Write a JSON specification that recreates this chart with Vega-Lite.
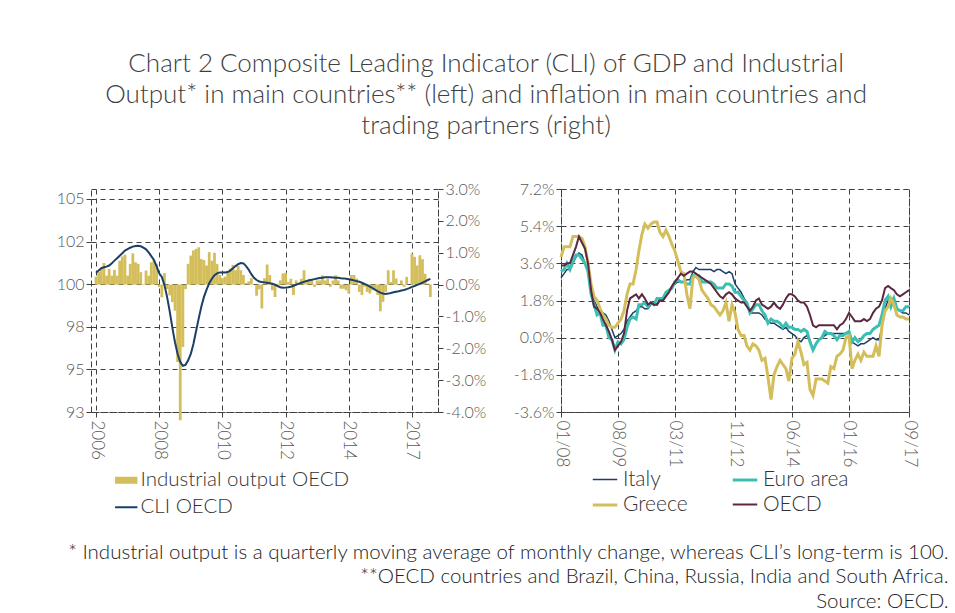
{
"$schema": "https://vega.github.io/schema/vega-lite/v6.json",
"background": "white",
"padding": {"left": 55, "top": 50, "right": 5, "bottom": 5},
"title": {"text": ["Chart 2 Composite Leading Indicator (CLI) of GDP and Industrial", "Output* in main countries** (left) and inflation in main countries and", "trading partners (right)"], "anchor": "middle", "fontSize": 26, "fontWeight": 300, "lineHeight": 31, "color": "#404040", "offset": 42, "dx": -16},
"vconcat": [
{"hconcat": [
{
"width": 347, "height": 223,
"data": {"name": "io"},
"layer": [
{"mark": {"type": "bar", "size": 2.8, "clip": false},
"encoding": {
"x": {"field": "i", "type": "quantitative", "scale": {"domain": [0, 128], "nice": false, "zero": false}, "axis": {"values": [0, 24, 48, 72, 96, 120], "labelExpr": "datum.value == 120 ? '2017' : '' + (2006 + datum.value / 12)", "labelAngle": 90, "labelAlign": "left", "labelBaseline": "middle", "labelFontSize": 17, "grid": true, "title": null, "labelPadding": 3}},
"y": {"field": "io", "type": "quantitative", "scale": {"domain": [-4, 3], "nice": false}, "axis": {"orient": "right", "values": [-4, -3, -2, -1, 0, 1, 2, 3], "labelExpr": "replace(format(datum.value, '.1f'), '\u2212', '-') + '%'", "grid": false, "title": null}},
"color": {"datum": "Industrial output OECD", "type": "nominal", "scale": {"domain": ["Industrial output OECD", "CLI OECD"], "range": ["#D4BE5B", "#1B3F66"]},
"legend": {"title": null, "orient": "bottom", "direction": "vertical", "symbolType": "stroke", "symbolSize": 500, "rowPadding": 2, "padding": 25, "offset": -15, "labelLimit": 400, "labelFontSize": 20.5,
"encode": {"symbols": {"update": {"strokeWidth": {"signal": "datum.label == 'CLI OECD' ? 2 : 7"}, "stroke": {"signal": "datum.label == 'CLI OECD' ? '#1B3F66' : '#D4BE5B'"}}}}}}
}},
{"mark": {"type": "line", "strokeWidth": 2},
"encoding": {
"x": {"field": "i", "type": "quantitative"},
"y": {"field": "cli", "type": "quantitative", "scale": {"domain": [93, 105.3], "nice": false, "zero": false}, "axis": {"orient": "left", "values": [93, 95.35, 97.7, 100.05, 102.4, 104.75], "format": ".0f", "grid": true, "title": null}},
"color": {"datum": "CLI OECD", "type": "nominal"}
}}
],
"resolve": {"scale": {"y": "independent"}}
},
{
"width": 348, "height": 223,
"data": {"name": "cpi"},
"transform": [{"fold": ["Italy", "Euro area", "Greece", "OECD"], "as": ["series", "value"]}],
"mark": {"type": "line"},
"encoding": {
"x": {"field": "date", "type": "temporal", "scale": {"type": "utc", "domain": [{"year": 2008, "month": 1, "date": 1, "utc": true}, {"year": 2017, "month": 9, "date": 1, "utc": true}]},
"axis": {"values": [{"year": 2008, "month": 1, "date": 1, "utc": true}, {"year": 2009, "month": 8, "date": 1, "utc": true}, {"year": 2011, "month": 3, "date": 1, "utc": true}, {"year": 2012, "month": 11, "date": 1, "utc": true}, {"year": 2014, "month": 6, "date": 1, "utc": true}, {"year": 2016, "month": 1, "date": 1, "utc": true}, {"year": 2017, "month": 9, "date": 1, "utc": true}], "format": "%m/%y", "labelAngle": 90, "labelAlign": "left", "labelBaseline": "middle", "labelFontSize": 17, "grid": true, "title": null, "labelPadding": 3}},
"y": {"field": "value", "type": "quantitative", "scale": {"domain": [-3.6, 7.2], "nice": false, "zero": false}, "axis": {"values": [-3.6, -1.8, 0, 1.8, 3.6, 5.4, 7.2], "labelExpr": "replace(format(datum.value, '.1f'), '\u2212', '-') + '%'", "grid": true, "title": null}},
"color": {"field": "series", "type": "nominal", "scale": {"domain": ["Italy", "Euro area", "Greece", "OECD"], "range": ["#1B3F66", "#3CBFB2", "#D4BE5B", "#5C2741"]},
"legend": {"title": null, "orient": "bottom", "columns": 2, "symbolType": "stroke", "symbolSize": 600, "rowPadding": 1, "columnPadding": 38, "padding": 30, "offset": -31, "labelFontSize": 21,
"encode": {"symbols": {"update": {"strokeWidth": {"signal": "datum.label == 'Italy' ? 2 : 4"}, "stroke": {"signal": "datum.label == 'Italy' ? '#1B3F66' : datum.label == 'Euro area' ? '#3CBFB2' : datum.label == 'Greece' ? '#D4BE5B' : '#5C2741'"}}}}}},
"strokeWidth": {"field": "series", "type": "nominal", "scale": {"type": "ordinal", "domain": ["Italy", "Euro area", "Greece", "OECD"], "range": [1.5, 3, 3, 2]}, "legend": null}
}
}
],
"spacing": 25,
"resolve": {"scale": {"color": "independent", "strokeWidth": "independent"}, "legend": {"color": "independent"}},
"title": {"text": ["*  Industrial output is a quarterly moving average of monthly change, whereas CLI\u2019s long-term is 100.", "**OECD countries and Brazil, China, Russia, India and South Africa.", "Source: OECD."], "orient": "bottom", "anchor": "end", "align": "right", "fontSize": 20.5, "fontWeight": 300, "lineHeight": 24.5, "color": "#222222", "offset": -3, "dx": 30}
}
],
"datasets": {
"io": [
{"i":0,"io":0.25,"cli":100.68},{"i":1,"io":0.39,"cli":100.8},{"i":2,"io":0.49,"cli":100.93},{"i":3,"io":0.68,"cli":100.98},{"i":4,"io":0.28,"cli":101.02},{"i":5,"io":0.49,"cli":101.08},{"i":6,"io":0.28,"cli":101.2},{"i":7,"io":0.46,"cli":101.35},{"i":8,"io":0.28,"cli":101.48},{"i":9,"io":0.75,"cli":101.62},{"i":10,"io":0.88,"cli":101.76},{"i":11,"io":0.94,"cli":101.9},
{"i":12,"io":0.28,"cli":101.98},{"i":13,"io":0.65,"cli":102.06},{"i":14,"io":0.98,"cli":102.12},{"i":15,"io":0.7,"cli":102.16},{"i":16,"io":0.65,"cli":102.17},{"i":17,"io":0.39,"cli":102.14},{"i":18,"io":0.02,"cli":102.07},{"i":19,"io":0.44,"cli":101.97},{"i":20,"io":0.28,"cli":101.8},{"i":21,"io":0.7,"cli":101.6},{"i":22,"io":0.77,"cli":101.38},{"i":23,"io":0.65,"cli":101.05},
{"i":24,"io":-0.08,"cli":100.65},{"i":25,"io":-0.4,"cli":100.45},{"i":26,"io":0.36,"cli":100.0},{"i":27,"io":-0.14,"cli":99.35},{"i":28,"io":-0.34,"cli":98.55},{"i":29,"io":-0.55,"cli":97.65},{"i":30,"io":-0.82,"cli":96.85},{"i":31,"io":-2.43,"cli":96.2},{"i":32,"io":-4.26,"cli":95.75},{"i":33,"io":-1.96,"cli":95.55},{"i":34,"io":-0.14,"cli":95.6},{"i":35,"io":0.65,"cli":95.85},
{"i":36,"io":0.91,"cli":96.2},{"i":37,"io":1.07,"cli":96.75},{"i":38,"io":1.12,"cli":97.45},{"i":39,"io":1.17,"cli":98.15},{"i":40,"io":0.8,"cli":98.8},{"i":41,"io":0.77,"cli":99.35},{"i":42,"io":0.6,"cli":99.75},{"i":43,"io":1.02,"cli":100.1},{"i":44,"io":0.75,"cli":100.35},{"i":45,"io":1.0,"cli":100.55},{"i":46,"io":0.65,"cli":100.65},{"i":47,"io":0.3,"cli":100.7},
{"i":48,"io":0.2,"cli":100.7},{"i":49,"io":0.25,"cli":100.7},{"i":50,"io":0.4,"cli":100.72},{"i":51,"io":0.5,"cli":100.8},{"i":52,"io":0.62,"cli":100.93},{"i":53,"io":0.45,"cli":101.05},{"i":54,"io":0.58,"cli":101.15},{"i":55,"io":0.45,"cli":101.22},{"i":56,"io":0.3,"cli":101.2},{"i":57,"io":0.05,"cli":101.05},{"i":58,"io":0.1,"cli":100.85},{"i":59,"io":0.2,"cli":100.6},
{"i":60,"io":0.0,"cli":100.4},{"i":61,"io":-0.35,"cli":100.28},{"i":62,"io":-0.15,"cli":100.2},{"i":63,"io":-0.75,"cli":100.17},{"i":64,"io":0.2,"cli":100.15},{"i":65,"io":0.63,"cli":100.13},{"i":66,"io":0.3,"cli":100.1},{"i":67,"io":-0.18,"cli":100.08},{"i":68,"io":-0.39,"cli":100.02},{"i":69,"io":0.02,"cli":99.95},{"i":70,"io":0.13,"cli":99.88},{"i":71,"io":0.35,"cli":99.85},
{"i":72,"io":0.37,"cli":99.86},{"i":73,"io":0.08,"cli":99.88},{"i":74,"io":0.18,"cli":99.91},{"i":75,"io":-0.33,"cli":99.96},{"i":76,"io":0.13,"cli":100.02},{"i":77,"io":0.03,"cli":100.08},{"i":78,"io":0.18,"cli":100.13},{"i":79,"io":0.45,"cli":100.18},{"i":80,"io":0.13,"cli":100.23},{"i":81,"io":0.18,"cli":100.27},{"i":82,"io":0.13,"cli":100.3},{"i":83,"io":-0.07,"cli":100.33},
{"i":84,"io":0.13,"cli":100.36},{"i":85,"io":0.13,"cli":100.39},{"i":86,"io":0.29,"cli":100.41},{"i":87,"io":0.13,"cli":100.43},{"i":88,"io":0.18,"cli":100.43},{"i":89,"io":-0.07,"cli":100.43},{"i":90,"io":0.13,"cli":100.42},{"i":91,"io":0.29,"cli":100.41},{"i":92,"io":0.13,"cli":100.4},{"i":93,"io":-0.13,"cli":100.38},{"i":94,"io":-0.13,"cli":100.37},{"i":95,"io":-0.18,"cli":100.35},
{"i":96,"io":-0.28,"cli":100.32},{"i":97,"io":0.3,"cli":100.29},{"i":98,"io":0.3,"cli":100.26},{"i":99,"io":0.19,"cli":100.22},{"i":100,"io":-0.23,"cli":100.18},{"i":101,"io":-0.33,"cli":100.13},{"i":102,"io":-0.07,"cli":100.07},{"i":103,"io":-0.23,"cli":100.0},{"i":104,"io":-0.28,"cli":99.92},{"i":105,"io":-0.18,"cli":99.84},{"i":106,"io":-0.13,"cli":99.75},{"i":107,"io":-0.33,"cli":99.66},
{"i":108,"io":-0.84,"cli":99.58},{"i":109,"io":-0.54,"cli":99.53},{"i":110,"io":-0.23,"cli":99.51},{"i":111,"io":0.45,"cli":99.53},{"i":112,"io":0.08,"cli":99.56},{"i":113,"io":0.45,"cli":99.6},{"i":114,"io":0.19,"cli":99.63},{"i":115,"io":-0.02,"cli":99.66},{"i":116,"io":0.13,"cli":99.7},{"i":117,"io":-0.07,"cli":99.73},{"i":118,"io":0.24,"cli":99.78},{"i":119,"io":0.0,"cli":99.83},
{"i":120,"io":0.97,"cli":99.9},{"i":121,"io":0.87,"cli":99.95},{"i":122,"io":0.6,"cli":100.01},{"i":123,"io":0.92,"cli":100.07},{"i":124,"io":0.8,"cli":100.13},{"i":125,"io":0.34,"cli":100.2},{"i":126,"io":0.03,"cli":100.28},{"i":127,"io":-0.39,"cli":100.34}
],
"cpi": [
{"date":"2008-01","Italy":2.9,"Euro area":3.2,"Greece":3.9,"OECD":3.5},{"date":"2008-02","Italy":3.1,"Euro area":3.3,"Greece":4.4,"OECD":3.5},{"date":"2008-03","Italy":3.3,"Euro area":3.6,"Greece":4.4,"OECD":3.6},{"date":"2008-04","Italy":3.3,"Euro area":3.3,"Greece":4.4,"OECD":3.6},{"date":"2008-05","Italy":3.6,"Euro area":3.7,"Greece":4.9,"OECD":4.0},{"date":"2008-06","Italy":3.9,"Euro area":4.0,"Greece":4.9,"OECD":4.4},{"date":"2008-07","Italy":4.1,"Euro area":4.0,"Greece":4.9,"OECD":4.9},{"date":"2008-08","Italy":4.0,"Euro area":3.8,"Greece":4.8,"OECD":4.6},{"date":"2008-09","Italy":3.6,"Euro area":3.6,"Greece":4.4,"OECD":4.3},{"date":"2008-10","Italy":3.2,"Euro area":3.2,"Greece":3.6,"OECD":3.6},{"date":"2008-11","Italy":2.3,"Euro area":2.1,"Greece":2.6,"OECD":2.3},{"date":"2008-12","Italy":1.8,"Euro area":1.6,"Greece":2.0,"OECD":1.5},
{"date":"2009-01","Italy":1.5,"Euro area":1.1,"Greece":1.8,"OECD":1.4},{"date":"2009-02","Italy":1.3,"Euro area":1.2,"Greece":1.4,"OECD":1.2},{"date":"2009-03","Italy":1.2,"Euro area":0.6,"Greece":1.1,"OECD":0.9},{"date":"2009-04","Italy":1.1,"Euro area":0.6,"Greece":0.9,"OECD":0.6},{"date":"2009-05","Italy":0.8,"Euro area":0.0,"Greece":0.6,"OECD":0.3},{"date":"2009-06","Italy":0.4,"Euro area":-0.1,"Greece":0.5,"OECD":-0.1},{"date":"2009-07","Italy":0.0,"Euro area":-0.6,"Greece":0.5,"OECD":-0.6},{"date":"2009-08","Italy":0.1,"Euro area":-0.2,"Greece":0.7,"OECD":-0.4},{"date":"2009-09","Italy":0.2,"Euro area":-0.3,"Greece":0.9,"OECD":-0.2},{"date":"2009-10","Italy":0.4,"Euro area":-0.1,"Greece":1.3,"OECD":0.2},{"date":"2009-11","Italy":0.8,"Euro area":0.5,"Greece":2.1,"OECD":1.3},{"date":"2009-12","Italy":1.0,"Euro area":0.9,"Greece":2.6,"OECD":1.9},
{"date":"2010-01","Italy":1.2,"Euro area":1.0,"Greece":2.6,"OECD":2.0},{"date":"2010-02","Italy":1.3,"Euro area":0.9,"Greece":3.3,"OECD":2.1},{"date":"2010-03","Italy":1.5,"Euro area":1.6,"Greece":4.2,"OECD":1.9},{"date":"2010-04","Italy":1.5,"Euro area":1.6,"Greece":5.0,"OECD":2.1},{"date":"2010-05","Italy":1.4,"Euro area":1.7,"Greece":5.5,"OECD":1.9},{"date":"2010-06","Italy":1.4,"Euro area":1.5,"Greece":5.3,"OECD":1.6},{"date":"2010-07","Italy":1.6,"Euro area":1.7,"Greece":5.5,"OECD":1.7},{"date":"2010-08","Italy":1.7,"Euro area":1.6,"Greece":5.6,"OECD":1.6},{"date":"2010-09","Italy":1.6,"Euro area":1.9,"Greece":5.6,"OECD":1.6},{"date":"2010-10","Italy":1.9,"Euro area":1.9,"Greece":5.1,"OECD":1.8},{"date":"2010-11","Italy":1.8,"Euro area":1.9,"Greece":4.9,"OECD":1.8},{"date":"2010-12","Italy":2.1,"Euro area":2.2,"Greece":5.2,"OECD":2.0},
{"date":"2011-01","Italy":2.3,"Euro area":2.3,"Greece":4.9,"OECD":2.2},{"date":"2011-02","Italy":2.5,"Euro area":2.4,"Greece":4.5,"OECD":2.5},{"date":"2011-03","Italy":2.6,"Euro area":2.7,"Greece":4.2,"OECD":2.7},{"date":"2011-04","Italy":2.7,"Euro area":2.8,"Greece":3.7,"OECD":2.9},{"date":"2011-05","Italy":2.7,"Euro area":2.7,"Greece":3.2,"OECD":3.1},{"date":"2011-06","Italy":2.7,"Euro area":2.7,"Greece":3.1,"OECD":3.0},{"date":"2011-07","Italy":2.8,"Euro area":2.6,"Greece":2.1,"OECD":3.1},{"date":"2011-08","Italy":2.8,"Euro area":2.6,"Greece":1.4,"OECD":3.2},{"date":"2011-09","Italy":3.2,"Euro area":3.0,"Greece":2.9,"OECD":3.2},{"date":"2011-10","Italy":3.4,"Euro area":3.0,"Greece":3.0,"OECD":3.1},{"date":"2011-11","Italy":3.3,"Euro area":3.0,"Greece":2.8,"OECD":3.0},{"date":"2011-12","Italy":3.3,"Euro area":2.7,"Greece":2.3,"OECD":2.9},
{"date":"2012-01","Italy":3.3,"Euro area":2.7,"Greece":2.1,"OECD":2.8},{"date":"2012-02","Italy":3.3,"Euro area":2.7,"Greece":1.9,"OECD":2.7},{"date":"2012-03","Italy":3.3,"Euro area":2.7,"Greece":1.6,"OECD":2.6},{"date":"2012-04","Italy":3.2,"Euro area":2.6,"Greece":1.5,"OECD":2.4},{"date":"2012-05","Italy":3.3,"Euro area":2.4,"Greece":1.3,"OECD":2.2},{"date":"2012-06","Italy":3.3,"Euro area":2.4,"Greece":1.1,"OECD":2.0},{"date":"2012-07","Italy":3.2,"Euro area":2.4,"Greece":1.3,"OECD":1.9},{"date":"2012-08","Italy":3.1,"Euro area":2.6,"Greece":1.7,"OECD":2.1},{"date":"2012-09","Italy":3.2,"Euro area":2.6,"Greece":0.8,"OECD":2.2},{"date":"2012-10","Italy":3.1,"Euro area":2.5,"Greece":1.6,"OECD":2.1},{"date":"2012-11","Italy":2.6,"Euro area":2.2,"Greece":1.2,"OECD":1.9},{"date":"2012-12","Italy":2.4,"Euro area":2.2,"Greece":0.4,"OECD":1.8},
{"date":"2013-01","Italy":2.2,"Euro area":2.0,"Greece":0.1,"OECD":1.7},{"date":"2013-02","Italy":1.9,"Euro area":1.8,"Greece":0.1,"OECD":1.7},{"date":"2013-03","Italy":1.7,"Euro area":1.7,"Greece":-0.4,"OECD":1.5},{"date":"2013-04","Italy":1.2,"Euro area":1.2,"Greece":-0.6,"OECD":1.3},{"date":"2013-05","Italy":1.2,"Euro area":1.4,"Greece":-0.3,"OECD":1.5},{"date":"2013-06","Italy":1.2,"Euro area":1.6,"Greece":-0.4,"OECD":1.8},{"date":"2013-07","Italy":1.2,"Euro area":1.6,"Greece":-0.6,"OECD":1.9},{"date":"2013-08","Italy":1.1,"Euro area":1.3,"Greece":-1.1,"OECD":1.6},{"date":"2013-09","Italy":0.9,"Euro area":1.1,"Greece":-1.0,"OECD":1.5},{"date":"2013-10","Italy":0.8,"Euro area":0.7,"Greece":-1.9,"OECD":1.4},{"date":"2013-11","Italy":0.7,"Euro area":0.9,"Greece":-3.0,"OECD":1.5},{"date":"2013-12","Italy":0.7,"Euro area":0.8,"Greece":-1.8,"OECD":1.7},
{"date":"2014-01","Italy":0.6,"Euro area":0.8,"Greece":-1.4,"OECD":1.5},{"date":"2014-02","Italy":0.5,"Euro area":0.7,"Greece":-1.1,"OECD":1.4},{"date":"2014-03","Italy":0.4,"Euro area":0.5,"Greece":-1.3,"OECD":1.6},{"date":"2014-04","Italy":0.5,"Euro area":0.7,"Greece":-1.5,"OECD":1.9},{"date":"2014-05","Italy":0.3,"Euro area":0.5,"Greece":-2.1,"OECD":2.1},{"date":"2014-06","Italy":0.2,"Euro area":0.5,"Greece":-1.0,"OECD":2.1},{"date":"2014-07","Italy":0.1,"Euro area":0.4,"Greece":-0.8,"OECD":2.0},{"date":"2014-08","Italy":-0.1,"Euro area":0.4,"Greece":-0.2,"OECD":1.8},{"date":"2014-09","Italy":-0.2,"Euro area":0.3,"Greece":-0.7,"OECD":1.7},{"date":"2014-10","Italy":0.0,"Euro area":0.4,"Greece":-1.3,"OECD":1.7},{"date":"2014-11","Italy":0.1,"Euro area":0.3,"Greece":-1.2,"OECD":1.5},{"date":"2014-12","Italy":-0.1,"Euro area":-0.2,"Greece":-2.5,"OECD":1.1},
{"date":"2015-01","Italy":-0.6,"Euro area":-0.6,"Greece":-2.8,"OECD":0.6},{"date":"2015-02","Italy":-0.3,"Euro area":-0.3,"Greece":-2.0,"OECD":0.5},{"date":"2015-03","Italy":-0.1,"Euro area":-0.1,"Greece":-2.0,"OECD":0.6},{"date":"2015-04","Italy":0.0,"Euro area":0.0,"Greece":-2.0,"OECD":0.6},{"date":"2015-05","Italy":0.1,"Euro area":0.3,"Greece":-2.1,"OECD":0.6},{"date":"2015-06","Italy":0.2,"Euro area":0.2,"Greece":-2.2,"OECD":0.6},{"date":"2015-07","Italy":0.2,"Euro area":0.2,"Greece":-1.4,"OECD":0.6},{"date":"2015-08","Italy":0.2,"Euro area":0.1,"Greece":-1.5,"OECD":0.6},{"date":"2015-09","Italy":0.2,"Euro area":-0.1,"Greece":-0.9,"OECD":0.4},{"date":"2015-10","Italy":0.2,"Euro area":0.1,"Greece":-0.8,"OECD":0.6},{"date":"2015-11","Italy":0.2,"Euro area":0.1,"Greece":-0.6,"OECD":0.7},{"date":"2015-12","Italy":0.2,"Euro area":0.2,"Greece":0.0,"OECD":0.9},
{"date":"2016-01","Italy":0.2,"Euro area":0.3,"Greece":0.1,"OECD":1.2},{"date":"2016-02","Italy":-0.2,"Euro area":-0.2,"Greece":-1.5,"OECD":1.0},{"date":"2016-03","Italy":-0.3,"Euro area":0.0,"Greece":-1.1,"OECD":0.8},{"date":"2016-04","Italy":-0.4,"Euro area":-0.2,"Greece":-0.8,"OECD":0.8},{"date":"2016-05","Italy":-0.3,"Euro area":-0.1,"Greece":-1.1,"OECD":0.8},{"date":"2016-06","Italy":-0.3,"Euro area":0.1,"Greece":-0.7,"OECD":0.9},{"date":"2016-07","Italy":-0.2,"Euro area":0.2,"Greece":-0.9,"OECD":0.8},{"date":"2016-08","Italy":-0.1,"Euro area":0.2,"Greece":-0.9,"OECD":0.9},{"date":"2016-09","Italy":0.0,"Euro area":0.4,"Greece":-0.9,"OECD":1.2},{"date":"2016-10","Italy":-0.1,"Euro area":0.5,"Greece":-0.4,"OECD":1.4},{"date":"2016-11","Italy":-0.1,"Euro area":0.6,"Greece":-0.9,"OECD":1.5},{"date":"2016-12","Italy":0.5,"Euro area":1.1,"Greece":0.6,"OECD":1.8},
{"date":"2017-01","Italy":1.4,"Euro area":1.8,"Greece":1.3,"OECD":2.4},{"date":"2017-02","Italy":1.8,"Euro area":2.0,"Greece":1.5,"OECD":2.5},{"date":"2017-03","Italy":1.9,"Euro area":1.5,"Greece":1.9,"OECD":2.4},{"date":"2017-04","Italy":1.9,"Euro area":1.9,"Greece":1.6,"OECD":2.3},{"date":"2017-05","Italy":1.4,"Euro area":1.4,"Greece":1.1,"OECD":2.1},{"date":"2017-06","Italy":1.3,"Euro area":1.3,"Greece":1.0,"OECD":2.0},{"date":"2017-07","Italy":1.2,"Euro area":1.3,"Greece":1.0,"OECD":2.1},{"date":"2017-08","Italy":1.2,"Euro area":1.5,"Greece":0.9,"OECD":2.2},{"date":"2017-09","Italy":1.1,"Euro area":1.5,"Greece":0.9,"OECD":2.3}
]
},
"config": {
"font": "Lato",
"view": {"stroke": "#404040", "strokeDash": [5, 4], "strokeWidth": 1},
"axis": {"labelFont": "Lato", "labelFontSize": 16, "labelFontWeight": 300, "labelColor": "#595959", "gridColor": "#404040", "gridDash": [5, 4], "gridOpacity": 1, "domainColor": "#404040", "domainDash": [5, 4], "tickColor": "#404040", "tickSize": 5},
"legend": {"labelFont": "Lato", "labelFontSize": 19, "labelFontWeight": 300, "labelColor": "#333333"},
"title": {"font": "Lato"}
}
}
